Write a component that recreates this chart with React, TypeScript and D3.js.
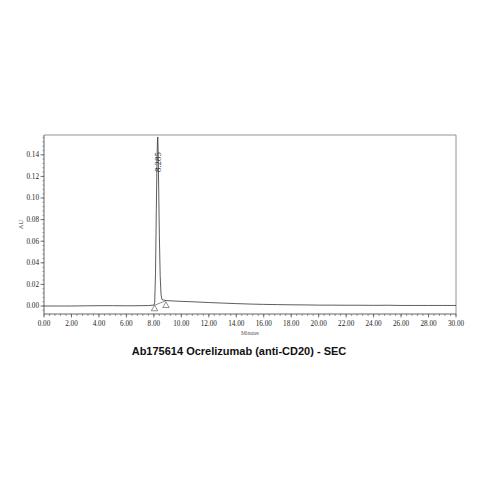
import * as d3 from "d3";

// chromatogram trace (minutes, AU)
const traceTime = [
  0, 1, 2, 3.2, 4, 5, 6, 7, 7.6, 8.0, 8.06, 8.12, 8.18, 8.23, 8.26, 8.285, 8.31, 8.35, 8.4, 8.46, 8.52,
  8.58, 8.7, 8.9, 9.5, 10, 11, 12, 13, 14, 15, 16, 17, 18, 19, 20, 21, 22, 23, 24, 25, 25.5, 26, 27, 28,
  29, 30,
];
const traceAU = [
  0, 0, 0, 0.0002, 0.0003, 0.0003, 0.0002, 0.0003, 0.0004, 0.0008, 0.003, 0.03, 0.09, 0.135, 0.152,
  0.1565, 0.145, 0.11, 0.065, 0.028, 0.011, 0.0062, 0.0055, 0.005, 0.0046, 0.0043, 0.0038, 0.0032,
  0.0027, 0.0022, 0.0018, 0.0015, 0.0013, 0.0011, 0.001, 0.0008, 0.0008, 0.0007, 0.0007, 0.0006,
  0.0007, 0.0006, 0.0005, 0.0005, 0.0005, 0.0005, 0.0005,
];

// integration baseline under the main peak, with start / end markers
const baselineTime = [8.03, 8.9];
const baselineAU = [0.0006, 0.005];
const markerTime = [8.05, 8.88];
const markerAU = [-0.0022, 0.0008];

const peakLabel = "8.285";
const peakTime = 8.285;

const xTicks = [0, 2, 4, 6, 8, 10, 12, 14, 16, 18, 20, 22, 24, 26, 28, 30];
const yTicks = [0, 0.02, 0.04, 0.06, 0.08, 0.1, 0.12, 0.14];

const title = "Ab175614 Ocrelizumab (anti-CD20) - SEC";

const W = 479;
const H = 479;
const left = 44;
const right = 456;
const top = 135;
const axisY = 314;

export default function App() {
  const x = d3.scaleLinear().domain([0, 30]).range([left, right]);
  const y = d3.scaleLinear().domain([0, 0.14]).range([306, 154.8]);

  const pts = traceTime.map((t, i) => [t, traceAU[i]] as [number, number]);
  const line = d3
    .line<[number, number]>()
    .x((d) => x(d[0]))
    .y((d) => y(d[1]));

  const minorX = d3.range(0, 30.001, 0.4);
  const minorY = d3.range(-0.004, y.invert(top), 0.004);

  const tickFont = "'Liberation Serif', 'DejaVu Serif', serif";
  const axisColor = "#555";

  return (
    <svg
      width={W}
      height={H}
      viewBox={`0 0 ${W} ${H}`}
      style={{ position: "absolute", left: 0, top: 0, background: "#fff" }}
    >
      {/* frame top / right */}
      <path d={`M${left},${top}H${right}V${axisY}`} fill="none" stroke="#888" strokeWidth={0.9} />

      {/* y axis */}
      <line x1={left} x2={left} y1={top} y2={axisY} stroke={axisColor} strokeWidth={0.9} />
      {minorY.map((v) => (
        <line key={"my" + v} x1={left - 1.5} x2={left} y1={y(v)} y2={y(v)} stroke={axisColor} strokeWidth={0.6} />
      ))}
      {yTicks.map((v) => (
        <g key={"y" + v}>
          <line x1={left - 3.5} x2={left} y1={y(v)} y2={y(v)} stroke={axisColor} strokeWidth={0.8} />
          <text
            x={left - 5}
            y={y(v)}
            dy="0.33em"
            textAnchor="end"
            fontFamily={tickFont}
            fontSize={7.2}
            fill="#222"
          >
            {d3.format(".2f")(v)}
          </text>
        </g>
      ))}
      <text
        transform={`translate(23,${(top + axisY) / 2}) rotate(-90)`}
        textAnchor="middle"
        fontFamily={tickFont}
        fontSize={6.5}
        fill="#333"
      >
        AU
      </text>

      {/* x axis */}
      <line x1={left} x2={right} y1={axisY} y2={axisY} stroke={axisColor} strokeWidth={0.9} />
      {minorX.map((v) => (
        <line key={"mx" + v} x1={x(v)} x2={x(v)} y1={axisY} y2={axisY + 2} stroke={axisColor} strokeWidth={0.6} />
      ))}
      {xTicks.map((v) => (
        <g key={"x" + v}>
          <line x1={x(v)} x2={x(v)} y1={axisY} y2={axisY + 3.5} stroke={axisColor} strokeWidth={0.8} />
          <text
            x={x(v)}
            y={axisY + 12}
            textAnchor="middle"
            fontFamily={tickFont}
            fontSize={7.2}
            fill="#222"
          >
            {d3.format(".2f")(v)}
          </text>
        </g>
      ))}
      <text x={250} y={335} textAnchor="middle" fontFamily={tickFont} fontSize={5.5} fill="#555">
        Minutes
      </text>

      {/* trace */}
      <path d={line(pts) ?? ""} fill="none" stroke="#333" strokeWidth={0.8} />
      <path
        d={line(baselineTime.map((t, i) => [t, baselineAU[i]] as [number, number])) ?? ""}
        fill="none"
        stroke="#444"
        strokeWidth={0.6}
      />
      {markerTime.map((t, i) => {
        const cx = x(t);
        const cy = y(markerAU[i]);
        return (
          <path
            key={"m" + i}
            d={`M${cx},${cy - 3.2}L${cx + 3.2},${cy + 2.4}L${cx - 3.2},${cy + 2.4}Z`}
            fill="#fff"
            stroke="#444"
            strokeWidth={0.6}
          />
        );
      })}

      {/* peak label */}
      <text
        transform={`translate(${x(peakTime) + 2.8},172) rotate(-90)`}
        fontFamily={tickFont}
        fontSize={8.8}
        fill="#333"
      >
        {peakLabel}
      </text>

      <text
        x={239}
        y={355}
        textAnchor="middle"
        fontFamily="'Liberation Sans', Arial, sans-serif"
        fontWeight="bold"
        fontSize={11}
        fill="#111"
      >
        {title}
      </text>
    </svg>
  );
}
